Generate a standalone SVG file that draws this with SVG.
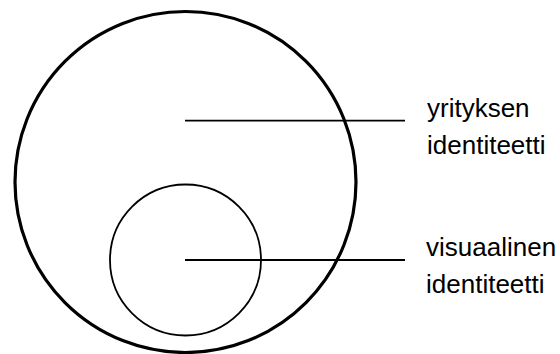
<svg xmlns="http://www.w3.org/2000/svg" width="560" height="354" viewBox="0 0 560 354">
<style>
.lbl{font-family:"Liberation Sans",Arial,sans-serif;font-size:26px;fill:#000}
.ln{stroke:#000;stroke-width:1.8;fill:none}
</style>
<rect width="560" height="354" fill="#fff"/>
<g id="outer"><circle cx="185.5" cy="182" r="170.5" fill="none" stroke="#000" stroke-width="3.2"/></g>
<g id="inner"><circle cx="185.5" cy="260" r="75.5" fill="none" stroke="#000" stroke-width="1.8"/></g>
<g id="connectors">
<line class="ln" x1="185" y1="120.7" x2="405" y2="120.7"/>
<line class="ln" x1="185" y1="260" x2="405" y2="260"/>
</g>
<g id="label-yrityksen">
<text class="lbl" x="427" y="117">yrityksen</text>
<text class="lbl" x="427" y="154">identiteetti</text>
</g>
<g id="label-visuaalinen">
<text class="lbl" x="426" y="256">visuaalinen</text>
<text class="lbl" x="426" y="293">identiteetti</text>
</g>
</svg>
